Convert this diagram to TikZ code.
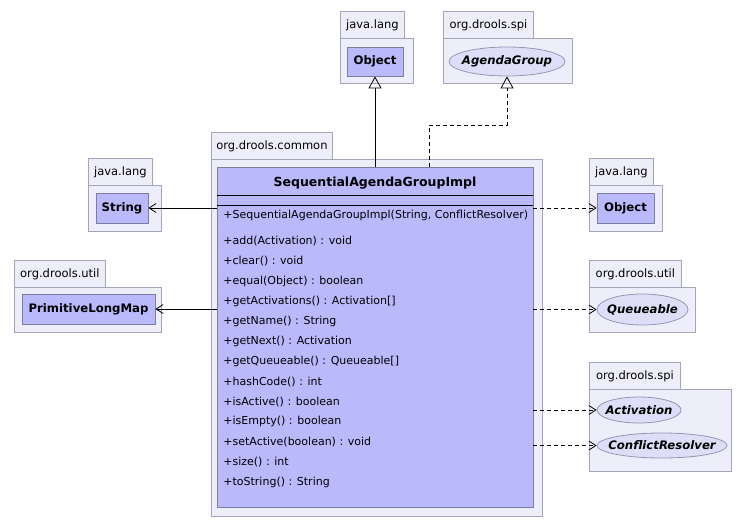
\documentclass[tikz,border=0pt]{standalone}
\usepackage{fontspec}
\setmainfont{DejaVu Sans}
\usetikzlibrary{arrows.meta,shapes.geometric,positioning}
\definecolor{pkgfill}{RGB}{238,238,250}
\definecolor{pkgline}{RGB}{165,165,185}
\definecolor{clsfill}{RGB}{185,185,252}
\definecolor{clsline}{RGB}{125,125,160}
\definecolor{iffill}{RGB}{222,222,248}
\tikzset{
  pkgtab/.style={draw=pkgline,fill=pkgfill,anchor=north west,minimum height=27pt,inner sep=0pt,font=\fontsize{11.5}{13}\selectfont},
  pkgbody/.style={draw=pkgline,fill=pkgfill,anchor=north west,inner sep=0pt},
  clsbox/.style={draw=clsline,fill=clsfill,inner sep=0pt,font=\bfseries\fontsize{11.7}{13}\selectfont},
  ifbox/.style={ellipse,draw=clsline!80,fill=iffill,inner xsep=-20pt,inner ysep=0pt,font=\bfseries\itshape\fontsize{11.7}{13}\selectfont},
  meth/.style={anchor=west,inner sep=0pt,font=\fontsize{11}{13}\selectfont},
  assoc/.style={-{Straight Barb[length=7pt,width=9pt]}},
  dep/.style={assoc,dash pattern=on 4pt off 3pt},
  gen/.style={-{Triangle[open,length=12pt,width=13pt]}},
}
% package = tab + body
\newcommand{\umlpackage}[7]{%
  \node[pkgtab,minimum width=#4] (#1tab) at (#2,#3) {#7};
  \node[pkgbody,minimum width=#5,minimum height=#6] (#1) at (#2,#3+27) {};
}

\begin{document}
\begin{tikzpicture}[x=1pt,y=-1pt,line width=0.8pt]
  \useasboundingbox (0,0) rectangle (751,527);
  \umlpackage{langtop}{340}{11}{64}{73}{45}{java.lang}
  \umlpackage{spitop}{443}{11}{90}{129}{45}{org.drools.spi}
  \umlpackage{common}{211}{132}{121}{331}{357}{org.drools.common}
  \umlpackage{langleft}{88}{158}{64}{73}{46}{java.lang}
  \umlpackage{utilleft}{14}{260}{91}{147}{45}{org.drools.util}
  \umlpackage{langright}{589}{158}{64}{73}{46}{java.lang}
  \umlpackage{utilright}{589}{260}{92}{106}{45}{org.drools.util}
  \umlpackage{spiright}{589}{362}{91}{142}{82}{org.drools.spi}

  \node[clsbox,minimum width=56pt,minimum height=29pt] (objtop) at (375,61.5) {Object};
  \node[ifbox,minimum width=116pt,minimum height=29pt] (agrp) at (507,61.5) {AgendaGroup};
  \node[clsbox,minimum width=52pt,minimum height=30pt] (strg) at (122,208) {String};
  \node[clsbox,minimum width=133pt,minimum height=30pt] (plmap) at (88.5,309) {PrimitiveLongMap};
  \node[clsbox,minimum width=57pt,minimum height=30pt] (objright) at (625.5,208) {Object};
  \node[ifbox,minimum width=91pt,minimum height=31pt] (queue) at (642.5,309.5) {Queueable};
  \node[ifbox,minimum width=84pt,minimum height=26pt] (activ) at (639,410) {Activation};
  \node[ifbox,minimum width=130pt,minimum height=25pt] (confl) at (662,445.5) {ConflictResolver};

  % the class itself
  \node[draw=clsline,fill=clsfill,minimum width=316pt,minimum height=340pt,inner sep=0pt] (main) at (375,337) {};
  \node[font=\bfseries\fontsize{12.5}{15}\selectfont,inner sep=0pt] (title) at (375,183) {SequentialAgendaGroupImpl};
  \draw ([yshift=-29pt]main.north west) -- ([yshift=-29pt]main.north east);
  \draw ([yshift=-39pt]main.north west) -- ([yshift=-39pt]main.north east);
  \node[meth] (ctor) at (223,215) {+SequentialAgendaGroupImpl(String, ConflictResolver)};
  \foreach \m [count=\i from 0] in {add(Activation) : void, clear() : void, equal(Object) : boolean,
      getActivations() : Activation[], getName() : String, getNext() : Activation,
      getQueueable() : Queueable[], hashCode() : int, isActive() : boolean, isEmpty() : boolean,
      setActive(boolean) : void, size() : int, toString() : String}
    \node[meth] (m\i) at (223,241+20.1*\i) {+\m};

  % connectors
  \draw[gen] (main.north) -- (objtop.south);
  \coordinate (knee) at (429,125);
  \draw[gen,dash pattern=on 4pt off 3pt] (knee |- main.north) -- (knee) -- (knee -| agrp) -- (agrp.south);
  \draw[assoc] (main.west |- strg) -- (strg.east);
  \draw[assoc] (main.west |- plmap) -- (plmap.east);
  \draw[dep] (main.east |- objright) -- (objright.west);
  \draw[dep] (main.east |- queue) -- (queue.west);
  \draw[dep] (main.east |- activ) -- (activ.west);
  \draw[dep] (main.east |- confl) -- (confl.west);
\end{tikzpicture}
\end{document}
